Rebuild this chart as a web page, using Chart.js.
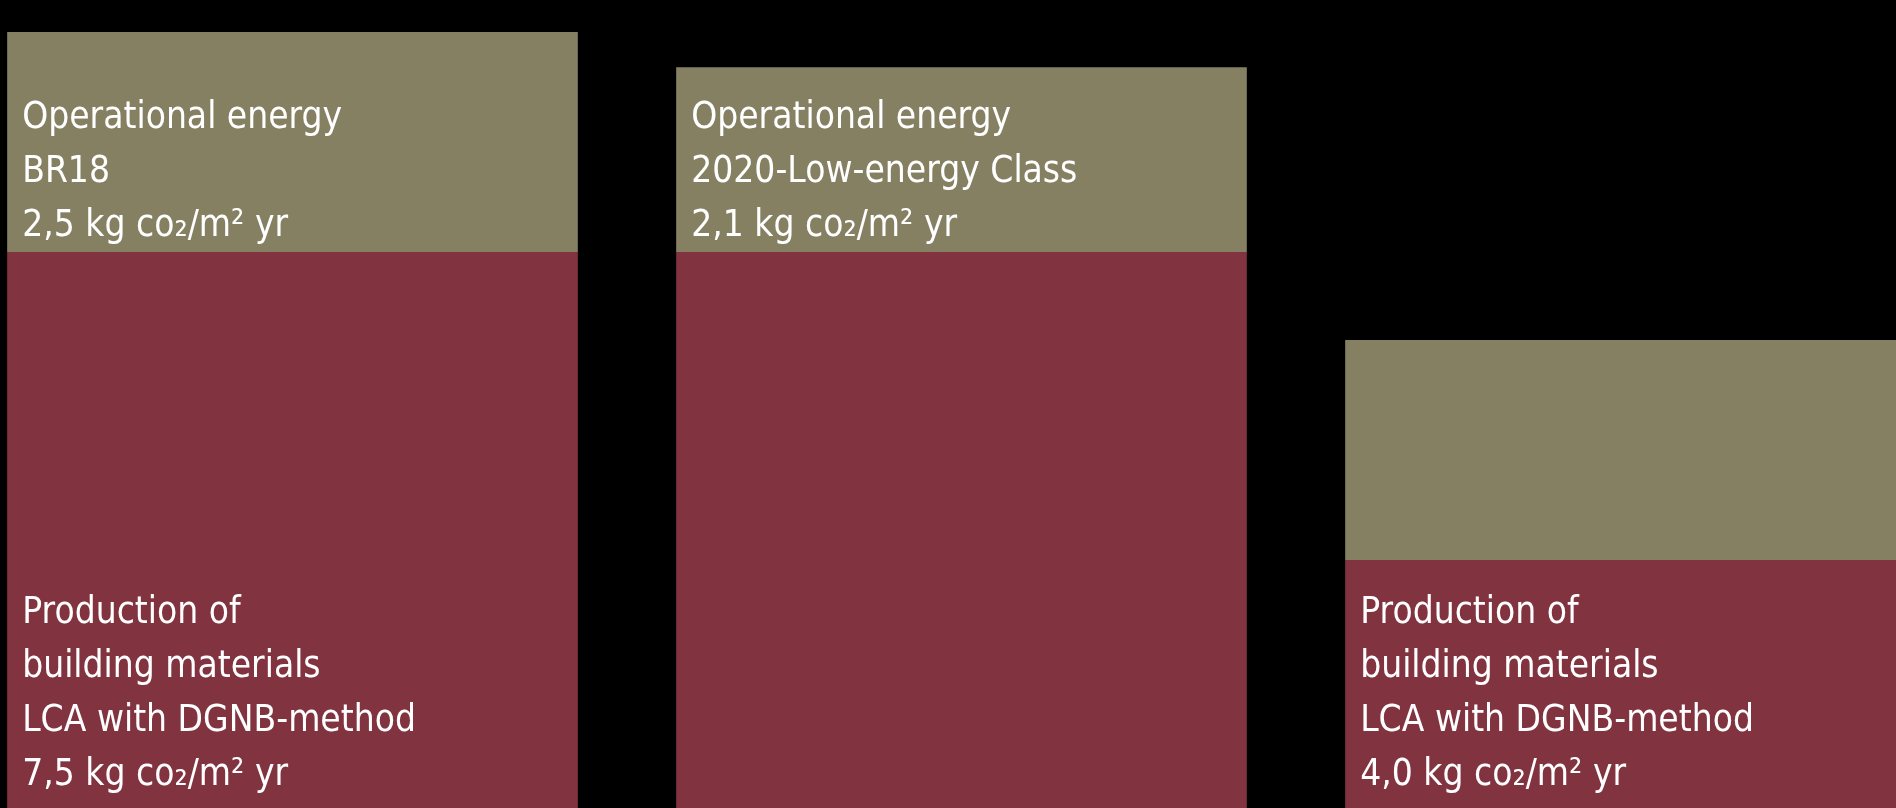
<!DOCTYPE html>
<html>
<head>
<meta charset="utf-8">
<script src="https://cdn.jsdelivr.net/npm/chart.js@4/dist/chart.umd.min.js"></script>
<style>
  html, body { margin: 0; padding: 0; background: #000; overflow: hidden; width: 1896px; height: 808px; }
  #wrap { position: absolute; left: -42px; top: -56px; width: 2007px; height: 968px; }
</style>
</head>
<body>
<div id="wrap"><canvas id="chart"></canvas></div>
<script>
// Building variants compared on the x axis
const categories = ['BR18', '2020-Low-energy Class', 'Reduced materials'];

// kg CO2 per m² per year
const materialsValues = [7.5, 7.5, 4.0];
const operationalValues = [2.5, 2.1, 2.5];

// Which segments carry a text block
const materialsLabelled = [true, false, true];
const operationalLabelled = [true, true, false];

// Text lines
const operationalTitle = 'Operational energy';
const operationalStandards = ['BR18', '2020-Low-energy Class', ''];
const materialsTitle = ['Production of', 'building materials', 'LCA with DGNB-method'];
const unitText = 'kg co₂/m² yr';

const yMin = 0;
const yMax = 11;

const colorMaterials = '#81333F';
const colorOperational = '#868063';

const fmt = v => v.toFixed(1).replace('.', ',');

const FONT_PX = 37;
const LINE_H = 54;
const TEXT_PAD = 15;
const TARGET_TITLE_W = 320;

const segmentText = {
  id: 'segmentText',
  afterDatasetsDraw(chart) {
    const ctx = chart.ctx;
    const canvasTop = chart.canvas.getBoundingClientRect().top;
    const visibleBottom = window.innerHeight - canvasTop;
    ctx.save();
    ctx.fillStyle = '#ffffff';
    ctx.textBaseline = 'alphabetic';
    ctx.textAlign = 'left';
    ctx.font = FONT_PX + 'px "DejaVu Sans", Verdana, sans-serif';
    const sx = Math.min(1, TARGET_TITLE_W / ctx.measureText(operationalTitle).width);

    const drawBlock = (lines, left, lastBaseline) => {
      lines.forEach((line, i) => {
        const y = lastBaseline - (lines.length - 1 - i) * LINE_H;
        ctx.save();
        ctx.translate(left, y);
        ctx.scale(sx, 1);
        ctx.fillText(line, 0, 0);
        ctx.restore();
      });
    };

    const matMeta = chart.getDatasetMeta(0);
    matMeta.data.forEach((el, i) => {
      if (!materialsLabelled[i]) return;
      const left = el.x - el.width / 2 + TEXT_PAD;
      const bottom = Math.min(el.base, visibleBottom);
      const lines = materialsTitle.concat([fmt(materialsValues[i]) + ' ' + unitText]);
      drawBlock(lines, left, bottom - 23);
    });

    const opMeta = chart.getDatasetMeta(1);
    opMeta.data.forEach((el, i) => {
      if (!operationalLabelled[i]) return;
      const left = el.x - el.width / 2 + TEXT_PAD;
      const lines = [operationalTitle, operationalStandards[i], fmt(operationalValues[i]) + ' ' + unitText];
      drawBlock(lines, left, el.base - 16);
    });
    ctx.restore();
  }
};

new Chart(document.getElementById('chart'), {
  type: 'bar',
  data: {
    labels: categories,
    datasets: [
      {
        label: 'Production of building materials',
        data: materialsValues,
        backgroundColor: colorMaterials,
        borderWidth: 0,
        categoryPercentage: 1,
        barPercentage: 0.853
      },
      {
        label: 'Operational energy',
        data: operationalValues,
        backgroundColor: colorOperational,
        borderWidth: 0,
        categoryPercentage: 1,
        barPercentage: 0.853
      }
    ]
  },
  options: {
    responsive: true,
    maintainAspectRatio: false,
    animation: false,
    layout: { padding: 0 },
    plugins: { legend: { display: false }, tooltip: { enabled: false } },
    scales: {
      x: { stacked: true, display: false, grid: { display: false } },
      y: { stacked: true, display: false, min: yMin, max: yMax, grid: { display: false } }
    }
  },
  plugins: [segmentText]
});
</script>
</body>
</html>
